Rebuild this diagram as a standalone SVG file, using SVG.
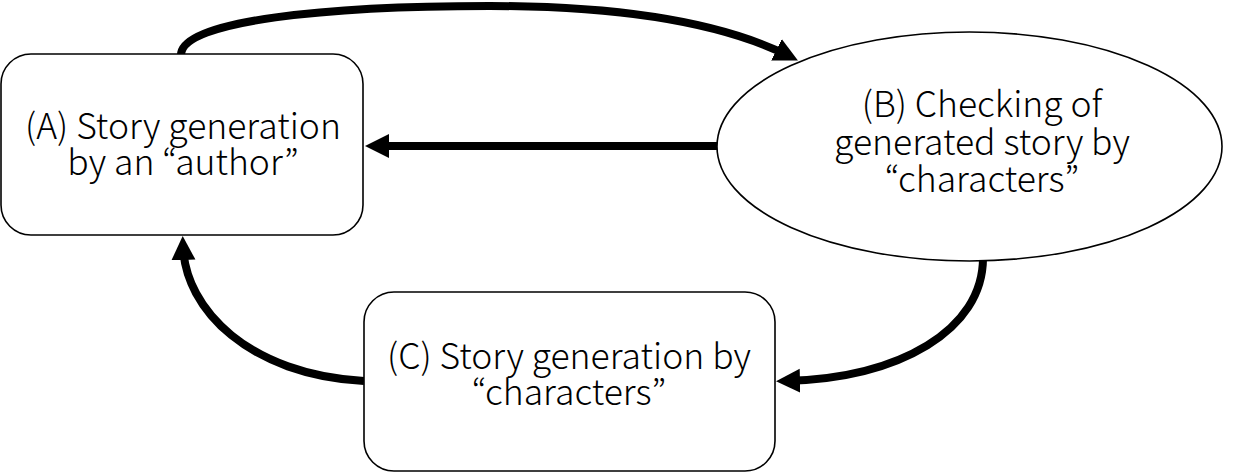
<svg xmlns="http://www.w3.org/2000/svg" width="1248" height="473" viewBox="0 0 1248 473">
<defs>
<style>
.node{fill:#fff;stroke:#000;stroke-width:1.6}
.lbl{font-family:"Noto Sans CJK JP","Noto Sans",sans-serif;font-size:35.5px;font-weight:300;fill:#000;text-anchor:middle}
.edge{fill:none;stroke:#000;stroke-width:8}
</style>
<marker id="ah" markerUnits="userSpaceOnUse" markerWidth="26" markerHeight="26" refX="14" refY="12" orient="auto">
<path d="M0,0 L24,12 L0,24 z" fill="#000"/>
</marker>
</defs>
<rect width="1248" height="473" fill="#fff"/>
<g id="connectors">
<path class="edge" d="M181,55 C181,20 330,6 490,6 C620,6 720,22 789,56" marker-end="url(#ah)"/>
<path class="edge" d="M717,146 L375,146" marker-end="url(#ah)"/>
<path class="edge" d="M983,258 C983,330 900,378 786,381" marker-end="url(#ah)"/>
<path class="edge" d="M364,381 C250,375 185,310 183,246" marker-end="url(#ah)"/>
</g>
<g id="nodeA">
<rect class="node" x="1" y="54" width="362" height="181" rx="30"/>
<text class="lbl" x="183" y="139">(A) Story generation</text>
<text class="lbl" x="183" y="175">by an “author”</text>
</g>
<g id="nodeB">
<ellipse class="node" cx="969.5" cy="146.5" rx="252.5" ry="114.5"/>
<text class="lbl" x="982" y="117">(B) Checking of</text>
<text class="lbl" x="982" y="155">generated story by</text>
<text class="lbl" x="982" y="192">“characters”</text>
</g>
<g id="nodeC">
<rect class="node" x="364" y="292" width="411" height="179" rx="30"/>
<text class="lbl" x="569" y="369">(C) Story generation by</text>
<text class="lbl" x="569" y="405">“characters”</text>
</g>
</svg>
